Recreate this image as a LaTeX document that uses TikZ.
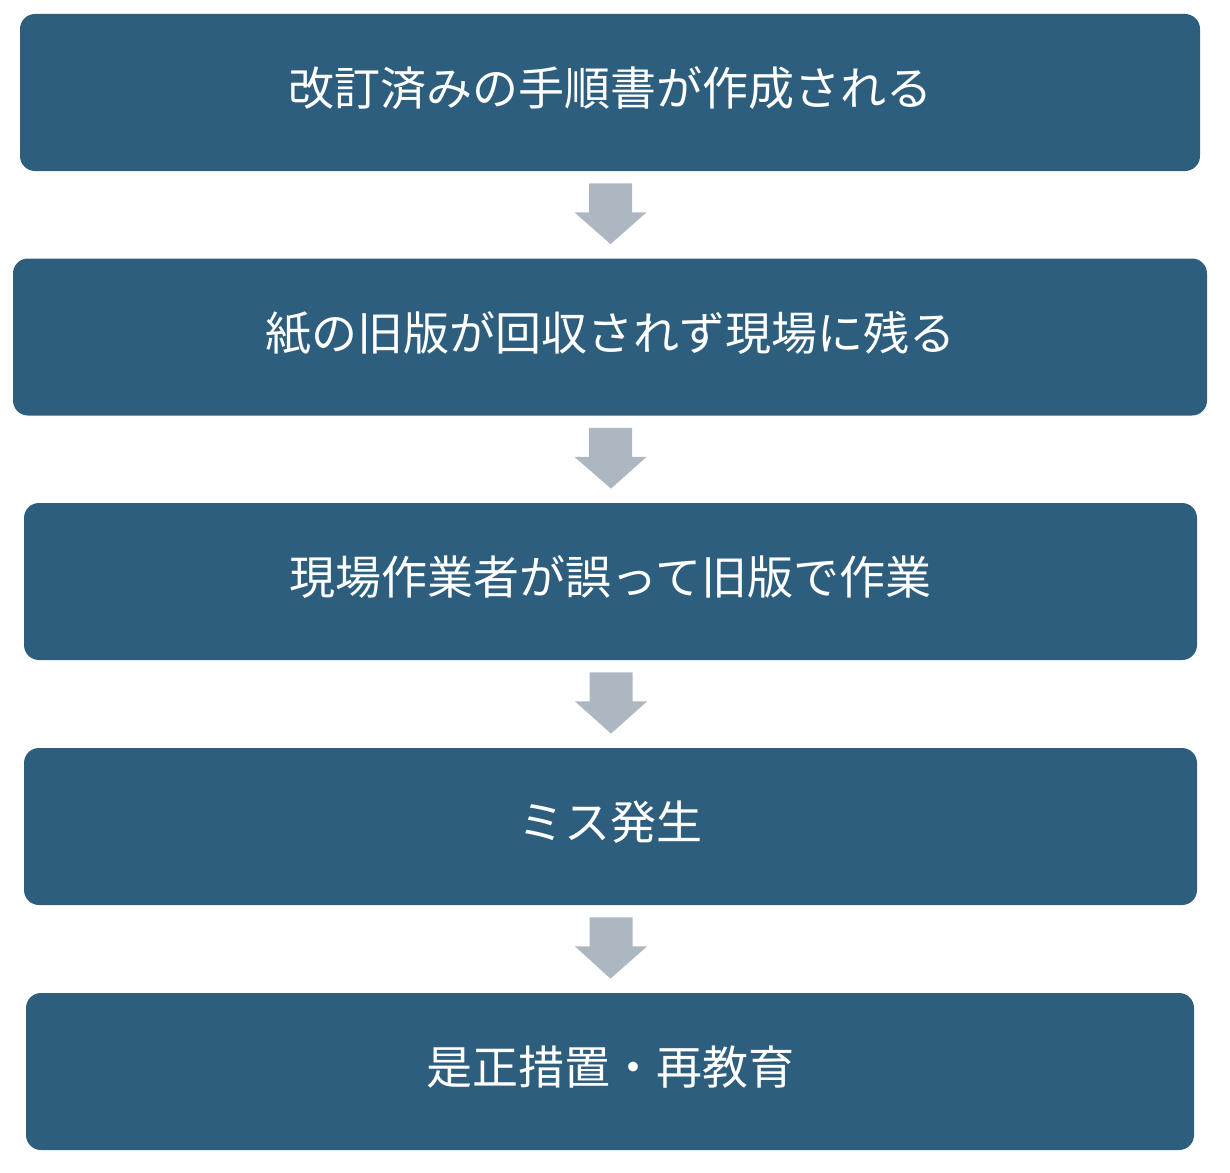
\documentclass[tikz,border=0pt]{standalone}
\usepackage{fontspec}
\usepackage{xcolor}
\usepackage{tikz}
\usetikzlibrary{positioning, calc}
\newfontfamily\jpfont{Noto Sans CJK JP}
\definecolor{boxblue}{HTML}{2E5E7E}
\definecolor{arrowgray}{HTML}{ADB7C2}
\tikzset{
	stepbox/.style={rectangle, rounded corners=7.5pt, fill=boxblue, text=white, minimum height=78.5pt, font=\jpfont\fontsize{23pt}{28pt}\selectfont, inner sep=0pt, text height=18pt, text depth=4.6pt},
	blockarrow/.style={fill=arrowgray, draw=none}
}
% block arrow between two boxes
\newcommand{\FlowArrow}[2]{
	\path ($(#1.south)+(0.25pt,-6pt)$) coordinate (top-#1);
	\path ($(#2.north)+(0.25pt,7pt)$) coordinate (tip-#1);
	\fill[blockarrow] ($(top-#1)+(-10.75pt,0)$) -- ($(top-#1)+(10.75pt,0)$) -- ($(top-#1)+(10.75pt,-14.5pt)$) -- ($(top-#1)+(18pt,-14.5pt)$) -- (tip-#1) -- ($(top-#1)+(-18pt,-14.5pt)$) -- ($(top-#1)+(-10.75pt,-14.5pt)$) -- cycle;
}

\begin{document}
\begin{tikzpicture}[x=0.5pt, y=-0.5pt]

	\useasboundingbox (0,0) rectangle (1230,1172);

	\node[stepbox, minimum width=590pt] (revised) at (610,92.5) {改訂済みの手順書が作成される};
	\node[stepbox, minimum width=597pt] (oldpaper) at (610,337) {紙の旧版が回収されず現場に残る};
	\node[stepbox, minimum width=586.5pt] (wrongwork) at (610.5,581.5) {現場作業者が誤って旧版で作業};
	\node[stepbox, minimum width=586.5pt] (mistake) at (610.5,826.5) {ミス発生};
	\node[stepbox, minimum width=584pt] (measure) at (610,1071.5) {是正措置・再教育};

	\FlowArrow{revised}{oldpaper}
	\FlowArrow{oldpaper}{wrongwork}
	\FlowArrow{wrongwork}{mistake}
	\FlowArrow{mistake}{measure}

\end{tikzpicture}
\end{document}
